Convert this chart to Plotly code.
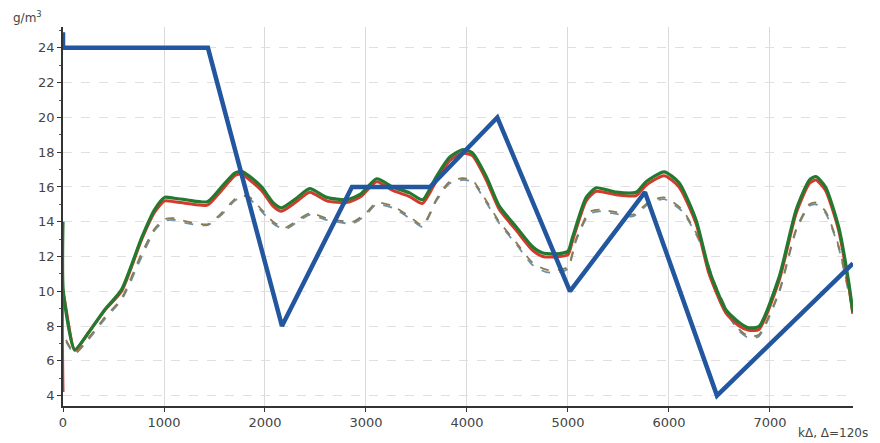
import plotly.graph_objects as go

# Blue (set-point-like piecewise linear)
blue_x = [0, 0, 15, 1435, 2168, 2861, 3634, 4300, 5020, 5762, 6475, 7822]
blue_y = [24.9, 24.0, 24.0, 24.0, 8.0, 16.0, 16.0, 20.0, 10.0, 15.7, 4.0, 11.6]

# Green & red (solid)
gr_x = [0, 3, 116, 250, 413, 580, 780, 907, 1006, 1100, 1233, 1430, 1570, 1700, 1770, 1850,
        1966, 2080, 2163, 2300, 2443, 2611, 2809, 2950, 3105, 3264, 3432, 3560, 3697, 3826,
        3955, 4053, 4191, 4320, 4488, 4650, 4750, 4915, 5000, 5045, 5180, 5280, 5477, 5675,
        5773, 5952, 6100, 6268, 6397, 6563, 6695, 6790, 6890, 7090, 7260, 7390, 7455, 7550,
        7680, 7780, 7820]
green_y = [14.0, 10.0, 6.65, 7.6, 8.94, 10.1, 13.1, 14.7, 15.4, 15.35, 15.25, 15.15, 16.0, 16.8,
           16.9, 16.6, 16.0, 15.1, 14.8, 15.3, 15.9, 15.4, 15.26, 15.6, 16.47, 16.0, 15.66,
           15.26, 16.6, 17.7, 18.14, 17.97, 16.6, 14.9, 13.7, 12.56, 12.2, 12.16, 12.3, 13.1,
           15.4, 15.95, 15.7, 15.7, 16.3, 16.87, 16.24, 14.1, 11.24, 8.94, 8.2, 7.9, 7.97,
           10.8, 14.7, 16.4, 16.6, 16.0, 13.7, 10.5, 8.8]
red_y = [4.2, 9.8, 6.6, 7.6, 8.9, 10.0, 13.0, 14.55, 15.2, 15.15, 15.05, 14.95, 15.8, 16.65,
         16.75, 16.4, 15.8, 14.9, 14.6, 15.1, 15.7, 15.2, 15.1, 15.45, 16.3, 15.8, 15.45,
         15.05, 16.35, 17.5, 17.95, 17.8, 16.4, 14.7, 13.5, 12.35, 12.0, 12.0, 12.1, 12.9,
         15.2, 15.75, 15.55, 15.5, 16.1, 16.65, 16.0, 13.9, 11.0, 8.75, 8.0, 7.75, 7.8, 10.6,
         14.5, 16.2, 16.4, 15.8, 13.5, 10.3, 8.7]

# Dashed pair
d_x = [30, 116, 250, 413, 580, 780, 907, 1006, 1100, 1233, 1430, 1570, 1700, 1770, 1850, 1966,
       2080, 2195, 2300, 2443, 2611, 2870, 3000, 3105, 3264, 3432, 3560, 3697, 3826, 3955,
       4053, 4191, 4320, 4488, 4650, 4785, 4915, 5000, 5080, 5210, 5310, 5477, 5640, 5805,
       5952, 6130, 6300, 6450, 6600, 6695, 6790, 6890, 7090, 7260, 7390, 7455, 7550, 7680,
       7780, 7820]
d1_y = [7.2, 6.45, 7.3, 8.5, 9.6, 12.2, 13.6, 14.15, 14.2, 14.0, 13.85, 14.5, 15.3, 15.5, 15.4,
        14.7, 14.0, 13.65, 14.0, 14.5, 14.2, 14.0, 14.5, 15.1, 14.9, 14.3, 13.8, 15.3, 16.3,
        16.5, 16.4, 15.2, 14.0, 12.8, 11.64, 11.24, 11.24, 11.4, 13.0, 14.57, 14.7, 14.55,
        14.4, 15.15, 15.4, 14.7, 13.0, 10.5, 8.6, 7.8, 7.4, 7.5, 10.0, 13.6, 15.0, 15.1, 14.6,
        12.6, 10.0, 9.0]
d2_y = [7.1, 6.4, 7.2, 8.4, 9.5, 12.0, 13.5, 14.05, 14.1, 13.9, 13.8, 14.4, 15.2, 15.4, 15.3,
        14.6, 13.9, 13.55, 13.9, 14.4, 14.1, 13.9, 14.4, 15.0, 14.8, 14.2, 13.7, 15.2, 16.2,
        16.4, 16.3, 15.1, 13.9, 12.7, 11.5, 11.1, 11.1, 11.3, 12.9, 14.45, 14.6, 14.45, 14.3,
        15.05, 15.3, 14.6, 12.9, 10.4, 8.5, 7.7, 7.3, 7.4, 9.9, 13.5, 14.9, 15.0, 14.5, 12.5,
        9.9, 8.9]

x_ticks = [0, 1000, 2000, 3000, 4000, 5000, 6000, 7000]
y_ticks = [4, 6, 8, 10, 12, 14, 16, 18, 20, 22, 24]

fig = go.Figure()
fig.add_trace(go.Scatter(x=d_x, y=d2_y, mode="lines", line=dict(color="#6f8fa6", width=1.8, dash="dash", shape="spline", smoothing=0.6), showlegend=False))
fig.add_trace(go.Scatter(x=d_x, y=d1_y, mode="lines", line=dict(color="#8c7b4e", width=1.8, dash="dash", shape="spline", smoothing=0.6), showlegend=False))
fig.add_trace(go.Scatter(x=gr_x, y=red_y, mode="lines", line=dict(color="#d23b2c", width=3, shape="spline", smoothing=0.6), showlegend=False))
fig.add_trace(go.Scatter(x=gr_x, y=green_y, mode="lines", line=dict(color="#23792f", width=3.2, shape="spline", smoothing=0.6), showlegend=False))
fig.add_trace(go.Scatter(x=blue_x, y=blue_y, mode="lines", line=dict(color="#22569f", width=4.5), showlegend=False))

fig.update_layout(
    width=872, height=435,
    margin=dict(l=55, r=27, t=19, b=37),
    plot_bgcolor="white", paper_bgcolor="white",
    font=dict(family="DejaVu Sans", size=13, color="#444444"),
    xaxis=dict(range=[0, 7822], tickvals=x_ticks, ticktext=[str(v) for v in x_ticks],
               showgrid=True, gridcolor="#dadada", gridwidth=1, zeroline=False,
               showline=True, linecolor="#333333", linewidth=1.5,
               ticks="outside", ticklen=4, tickcolor="#333333"),
    yaxis=dict(range=[3.4, 25.2], tickvals=y_ticks, ticktext=[str(v) for v in y_ticks],
               showgrid=True, gridcolor="#e0e0e0", gridwidth=1, griddash="dash", zeroline=False,
               showline=True, linecolor="#333333", linewidth=1.5,
               ticks="outside", ticklen=4, tickcolor="#333333",
               minor=dict(dtick=1, ticks="outside", ticklen=2, tickcolor="#555555", showgrid=False)),
    annotations=[
        dict(text="g/m<sup>3</sup>", xref="paper", yref="paper", x=-0.066, y=1.0,
             xanchor="left", yanchor="bottom", showarrow=False, font=dict(size=12, color="#444444")),
        dict(text="kΔ, Δ=120s", xref="paper", yref="paper", x=1.022, y=-0.094,
             xanchor="right", yanchor="bottom", showarrow=False, font=dict(size=12, color="#444444")),
    ],
)

fig.write_html("out.html")
